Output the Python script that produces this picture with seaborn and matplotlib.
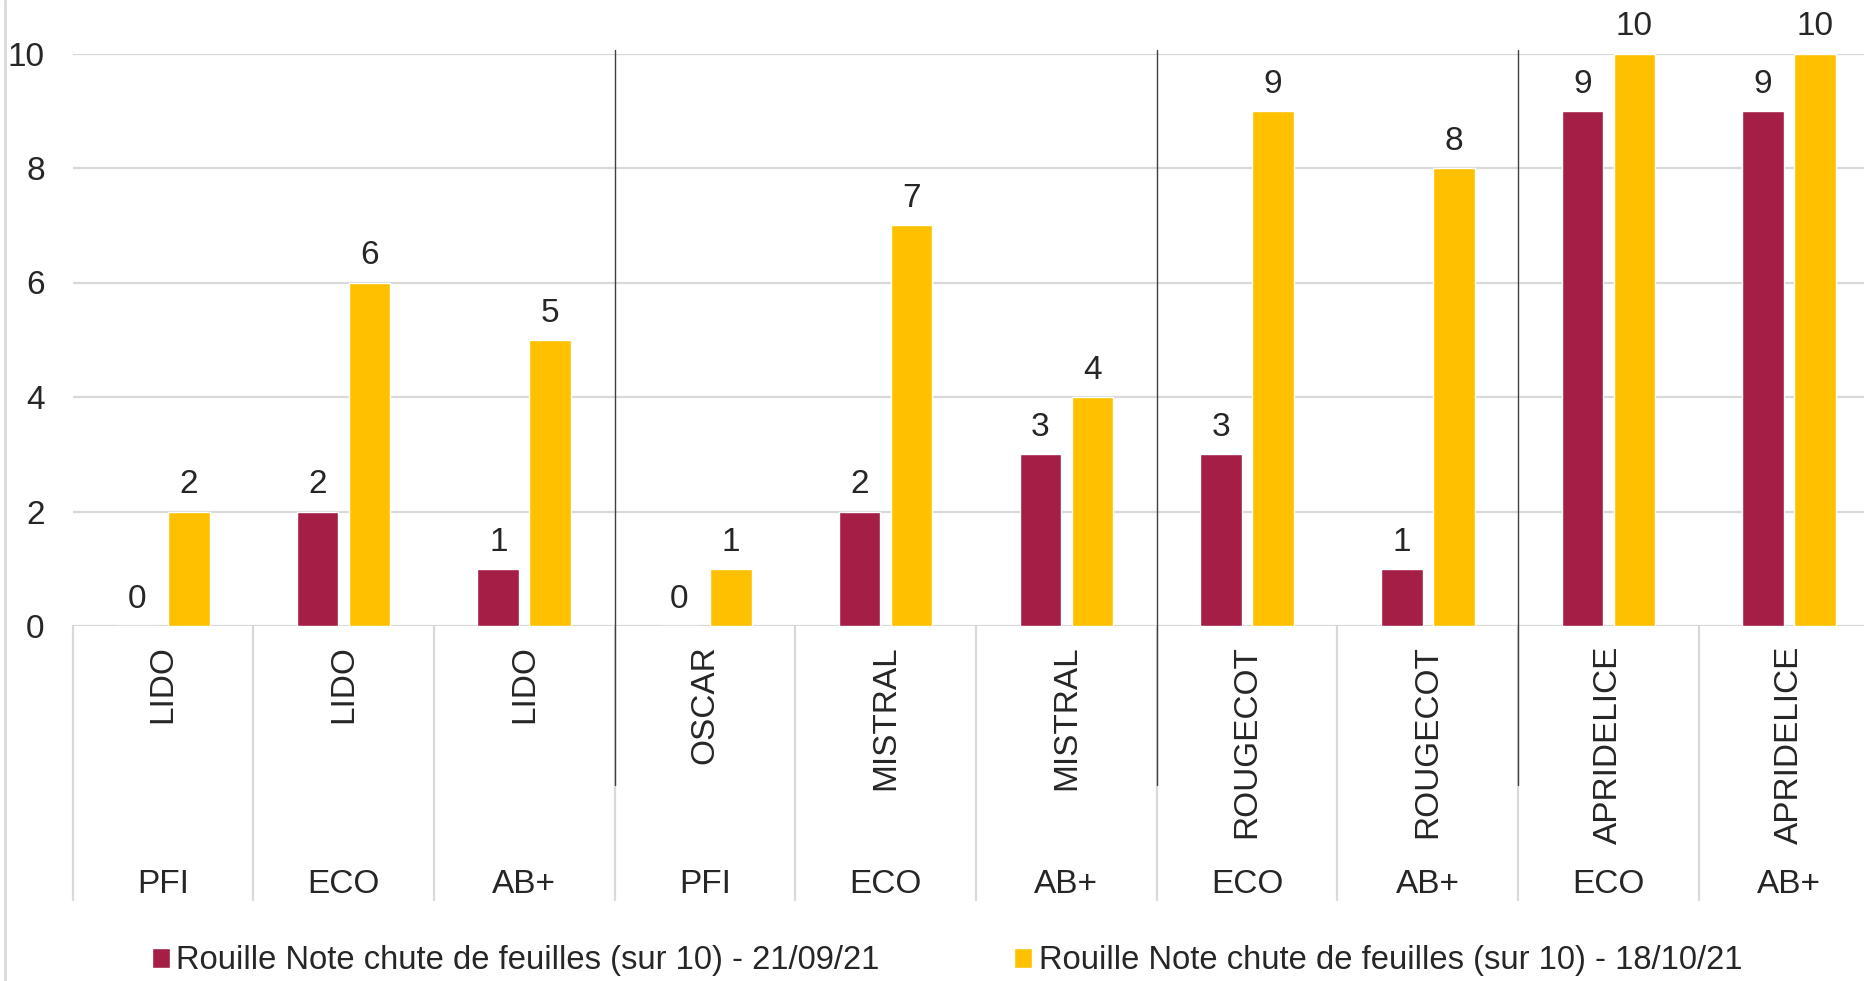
import matplotlib.pyplot as plt
import matplotlib.transforms as mtransforms
import matplotlib.lines as mlines
import numpy as np
import pandas as pd
import seaborn as sns

# data
varieties = ['LIDO', 'LIDO', 'LIDO', 'OSCAR', 'MISTRAL', 'MISTRAL',
             'ROUGECOT', 'ROUGECOT', 'APRIDELICE', 'APRIDELICE']
treatments = ['PFI', 'ECO', 'AB+', 'PFI', 'ECO', 'AB+', 'ECO', 'AB+', 'ECO', 'AB+']
note_sep = [0, 2, 1, 0, 2, 3, 3, 1, 9, 9]
note_oct = [2, 6, 5, 1, 7, 4, 9, 8, 10, 10]
series = ['Rouille Note chute de feuilles (sur 10) - 21/09/21',
          'Rouille Note chute de feuilles (sur 10) - 18/10/21']
group_sizes = [3, 3, 2, 2]   # LIDO | OSCAR+MISTRAL | ROUGECOT | APRIDELICE
colors = ['#A51E46', '#FFC000']

# build a long table for seaborn
keys = [v + '|' + t for v, t in zip(varieties, treatments)]
df = pd.DataFrame({'key': keys * 2,
                   'note': note_sep + note_oct,
                   'date': [series[0]] * len(keys) + [series[1]] * len(keys)})

sns.set_style('white')
plt.rcParams['font.family'] = ['Liberation Sans', 'DejaVu Sans']
FS = 24

fig = plt.figure(figsize=(18.64, 9.81), dpi=100)
ax = fig.add_axes([72.5 / 1864, 355 / 981, 1807 / 1864, 572.5 / 981])

sns.barplot(data=df, x='key', y='note', hue='date', order=keys, hue_order=series,
            palette=colors, saturation=1, width=0.575, gap=0.2,
            errorbar=None, ax=ax)

# value labels
for cont in ax.containers:
    ax.bar_label(cont, fmt='%d', padding=8, fontsize=FS, clip_on=False)

ax.set_xlim(-0.5, len(keys) - 0.5)
ax.set_ylim(0, 10)
ax.set_yticks(range(0, 11, 2))
ax.tick_params(axis='y', length=0, pad=20, labelsize=FS)
ax.grid(axis='y', color='#D9D9D9', lw=1.6)
ax.set_axisbelow(True)
for s in ax.spines.values():
    s.set_visible(False)
ax.set_xlabel('')
ax.set_ylabel('')

# two level category axis
ax.set_xticks(range(len(keys)))
ax.set_xticklabels(varieties, rotation=90, va='top', fontsize=FS)
ax.tick_params(axis='x', length=0, pad=14)

trans = mtransforms.blended_transform_factory(ax.transData, ax.transAxes)
for i, t in enumerate(treatments):
    ax.text(i, -0.452, t, transform=trans, ha='center', va='center', fontsize=FS)
for i in range(len(keys) + 1):
    ax.plot([i - 0.5, i - 0.5], [0, -0.479], transform=trans, color='#D9D9D9',
            lw=1.6, clip_on=False)

# darker dividers between variety groups
for b in np.cumsum(group_sizes)[:-1]:
    ax.plot([b - 0.5, b - 0.5], [1.006, -0.278], transform=trans, color='#404040',
            lw=1, clip_on=False)

# legend at the bottom
handles, labels = ax.get_legend_handles_labels()
ax.get_legend().remove()
fig.legend(handles, labels, loc='center', bbox_to_anchor=(0.508, 0.0204), ncol=2,
           frameon=False, fontsize=23.6, handlelength=0.55, handleheight=0.55,
           handletextpad=0.2, columnspacing=4.1)

# chart border on the left
fig.add_artist(mlines.Line2D([5 / 1864, 5 / 1864], [0, 1], color='#D9D9D9', lw=2,
                             transform=fig.transFigure))

fig.savefig('out.png', dpi=100)
